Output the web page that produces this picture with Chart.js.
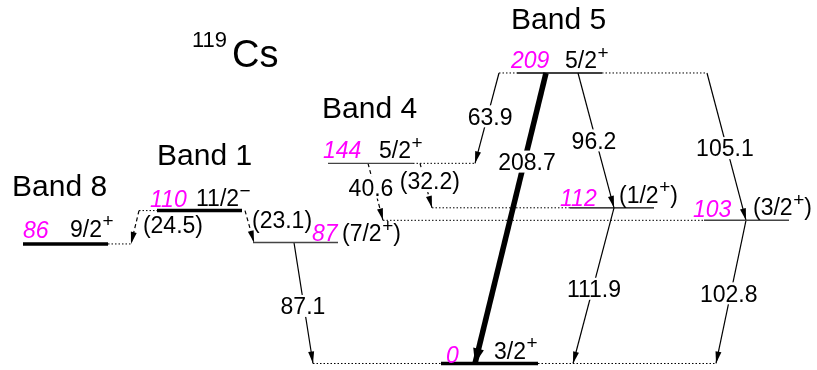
<!DOCTYPE html>
<html>
<head>
<meta charset="utf-8">
<script src="https://cdn.jsdelivr.net/npm/chart.js@4.4.0/dist/chart.umd.min.js"></script>
<style>
  html, body { margin: 0; padding: 0; background: #fff; }
</style>
</head>
<body>
<canvas id="levelChart" width="817" height="370"></canvas>
<script>
// 119Cs partial level scheme, energies in keV
const levelEnergies = [0, 86, 87, 103, 110, 112, 144, 209];
const levelNames = ["0", "86", "87", "103", "110", "112", "144", "209"];
const levelSpins = ["3/2", "9/2", "7/2", "3/2", "11/2", "1/2", "5/2", "5/2"];
const levelParities = ["+", "+", "+", "+", "\u2212", "+", "+", "+"];
const levelTentative = [false, false, true, true, false, true, false, false];

const gammaLabels = ["(24.5)", "(23.1)", "87.1", "40.6", "(32.2)", "63.9", "208.7", "96.2", "105.1", "111.9", "102.8"];
const gammaFrom = [110, 110, 87, 144, 144, 209, 209, 209, 209, 112, 103];
const gammaTo = [86, 87, 0, 103, 112, 144, 0, 112, 103, 0, 0];

const bandNames = ["Band 8", "Band 1", "Band 4", "Band 5"];
const nucleusMass = "119";
const nucleusSymbol = "Cs";

// ---- layout (x in canvas units, offsets in px) ----
const levelSegs = [
  [[313, 441, "dot"], [441, 538, "thick"], [538, 716, "dot"]],
  [[23, 108, "thick"], [108, 131, "dot"]],
  [[253, 338, "fine"]],
  [[383, 704, "dot"], [704, 789, "fine"]],
  [[139, 157, "dot"], [157, 242, "thick"]],
  [[432, 570, "dot"], [570, 654, "solid"]],
  [[328, 413, "fine"], [413, 475, "dot"]],
  [[499, 517, "dot"], [517, 602, "solid"], [602, 707, "dot"]],
];
const levelNameX = [446, 23, 312, 693, 150, 560, 323, 511];
const levelNameDy = [0.5, 6, 1.5, 3, 3.5, 2, 5, 4.5];
const levelSpinX = [494, 70, 342, 753, 196, 619, 379, 565];
const levelSpinDy = [4.5, 7, 1.5, 5, 4.5, 5, 5, 4.5];

const gammaX = [[139, 131], [245, 254], [294, 313], [368, 383], [420, 432], [499, 475], [546, 475], [578, 614], [707, 746], [614, 573], [746, 716]];
const gammaKind = ["dash", "dash", "solid", "dash", "dash", "solid", "thick", "solid", "solid", "solid", "solid"];
const gammaLabelT = [0.43, 0.29, 0.524, 0.425, 0.4, 0.48, 0.305, 0.5, 0.51, 0.52, 0.51];
const gammaLabelDx = [37.4, 34.4, -1, -3.4, 5, 2.6, 2.6, -2, -2, 1.3, -2];
const gammaLabelGap = [false, false, true, true, true, true, true, true, true, true, true];

const bandX = [12, 157, 322, 511];
const bandY = [196, 165, 118, 29];

const FONT = "'Liberation Sans', Arial, Helvetica, sans-serif";
const MAGENTA = "#ff00ff";

const segStyle = {
  dot: { borderWidth: 1, borderDash: [1.5, 2], borderColor: "#000" },
  thick: { borderWidth: 3.5, borderDash: [], borderColor: "#000" },
  solid: { borderWidth: 1.3, borderDash: [], borderColor: "#000" },
  fine: { borderWidth: 1.4, borderDash: [], borderColor: "#444" },
};
const gammaStyle = {
  solid: { borderWidth: 1.2, borderDash: [] },
  dash: { borderWidth: 1.2, borderDash: [4, 3] },
  thick: { borderWidth: 5.5, borderDash: [] },
};

const datasets = [];

levelEnergies.forEach((e, i) => {
  levelSegs[i].forEach((seg) => {
    const st = segStyle[seg[2]];
    datasets.push({
      data: [{ x: seg[0], y: e }, { x: seg[1], y: e }],
      showLine: true,
      pointRadius: 0,
      borderColor: st.borderColor,
      borderWidth: st.borderWidth,
      borderDash: st.borderDash,
      borderCapStyle: "butt",
    });
  });
});

const gammaStart = datasets.length;
gammaLabels.forEach((g, i) => {
  const st = gammaStyle[gammaKind[i]];
  datasets.push({
    data: [{ x: gammaX[i][0], y: gammaFrom[i] }, { x: gammaX[i][1], y: gammaTo[i] }],
    showLine: true,
    pointRadius: 0,
    borderColor: "#000",
    borderWidth: st.borderWidth,
    borderDash: st.borderDash,
    borderCapStyle: "butt",
  });
});

const arrowPlugin = {
  id: "arrows",
  afterDatasetsDraw: (chart) => {
    const ctx = chart.ctx;
    gammaLabels.forEach((g, i) => {
      const pts = chart.getDatasetMeta(gammaStart + i).data;
      const a = pts[0];
      const b = pts[1];
      const ang = Math.atan2(b.y - a.y, b.x - a.x);
      const thick = gammaKind[i] === "thick";
      const len = thick ? 15 : 12;
      const half = thick ? 5.5 : 3;
      ctx.save();
      ctx.translate(b.x, b.y);
      ctx.rotate(ang);
      ctx.fillStyle = "#000";
      ctx.beginPath();
      ctx.moveTo(0, 0);
      ctx.lineTo(-len, -half);
      ctx.lineTo(-len, half);
      ctx.closePath();
      ctx.fill();
      ctx.restore();
    });
  },
};

const drawSpin = (ctx, i, x, y) => {
  ctx.fillStyle = "#000";
  ctx.font = "23px " + FONT;
  let txt = (levelTentative[i] ? "(" : "") + levelSpins[i];
  ctx.fillText(txt, x, y);
  x += ctx.measureText(txt).width + 0.5;
  ctx.font = "19px " + FONT;
  ctx.fillText(levelParities[i], x, y - 9.5);
  x += ctx.measureText(levelParities[i]).width;
  if (levelTentative[i]) {
    ctx.font = "23px " + FONT;
    ctx.fillText(")", x, y);
  }
};

const textPlugin = {
  id: "texts",
  afterDraw: (chart) => {
    const ctx = chart.ctx;
    const xs = chart.scales.x;
    const ys = chart.scales.y;
    ctx.save();
    ctx.textBaseline = "alphabetic";
    ctx.textAlign = "left";

    // gamma energies along the transitions
    ctx.font = "23px " + FONT;
    gammaLabels.forEach((g, i) => {
      const x1 = xs.getPixelForValue(gammaX[i][0]);
      const x2 = xs.getPixelForValue(gammaX[i][1]);
      const y1 = ys.getPixelForValue(gammaFrom[i]);
      const y2 = ys.getPixelForValue(gammaTo[i]);
      const t = gammaLabelT[i];
      const cx = x1 + (x2 - x1) * t + gammaLabelDx[i];
      const cy = y1 + (y2 - y1) * t;
      const w = ctx.measureText(g).width;
      if (gammaLabelGap[i]) {
        ctx.fillStyle = "#fff";
        ctx.fillRect(cx - w / 2, cy - 11, w, 22);
      }
      ctx.fillStyle = "#000";
      ctx.fillText(g, cx - w / 2, cy + 8.3);
    });

    // level energies and spins
    levelEnergies.forEach((e, i) => {
      const y = ys.getPixelForValue(e);
      ctx.font = "italic 23px " + FONT;
      ctx.fillStyle = MAGENTA;
      ctx.fillText(levelNames[i], xs.getPixelForValue(levelNameX[i]), y - levelNameDy[i]);
      drawSpin(ctx, i, xs.getPixelForValue(levelSpinX[i]), y - levelSpinDy[i]);
    });

    // band names
    ctx.font = "30px " + FONT;
    ctx.fillStyle = "#000";
    bandNames.forEach((b, i) => {
      ctx.fillText(b, bandX[i], bandY[i]);
    });

    // nucleus
    ctx.font = "22px " + FONT;
    ctx.fillText(nucleusMass, 192, 47);
    ctx.font = "38px " + FONT;
    ctx.fillText(nucleusSymbol, 232, 67);
    ctx.restore();
  },
};

const ctx = document.getElementById("levelChart");
const levelChart = new Chart(ctx, {
  type: "scatter",
  data: { datasets: datasets },
  options: {
    responsive: false,
    animation: false,
    layout: { padding: 0 },
    plugins: {
      legend: { display: false },
      tooltip: { enabled: false },
    },
    scales: {
      x: { type: "linear", display: false, min: 0, max: 817 },
      y: { type: "linear", display: false, min: -4.68, max: 261.5 },
    },
  },
  plugins: [arrowPlugin, textPlugin],
});
</script>
</body>
</html>
